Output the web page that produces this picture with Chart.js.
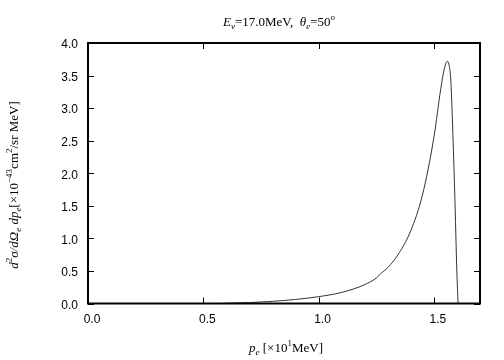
<!DOCTYPE html>
<html>
<head>
<meta charset="UTF-8">
<title>cross section</title>
<script src="https://cdn.jsdelivr.net/npm/chart.js"></script>
<style>
  html, body { margin: 0; padding: 0; background: #fff; }
  #wrap { width: 504px; height: 360px; }
</style>
</head>
<body>
<div id="wrap"><canvas id="grafico"></canvas></div>
<script>
// electron momentum p_e [x10 MeV] and cross section [x10^-43 cm^2/sr MeV]
var momentos = [0.58, 0.60, 0.70, 0.80, 0.90, 1.00, 1.10, 1.20, 1.25, 1.27, 1.30, 1.35, 1.40, 1.45, 1.50, 1.53, 1.545, 1.558, 1.566, 1.573, 1.580, 1.590, 1.600, 1.605];
var secoes  = [0.0, 0.004, 0.014, 0.033, 0.062, 0.105, 0.17, 0.29, 0.39, 0.46, 0.55, 0.78, 1.12, 1.66, 2.55, 3.30, 3.60, 3.72, 3.66, 3.45, 2.85, 1.75, 0.45, 0.0];
var ticksX = [0.0, 0.5, 1.0, 1.5];
var ticksY = [0.0, 0.5, 1.0, 1.5, 2.0, 2.5, 3.0, 3.5, 4.0];

var serif = '"Liberation Serif", "DejaVu Serif", serif';

// draws a run of text pieces (sub/superscripts) centred on x
function textoRico(ctx, partes, x, y) {
  var total = 0;
  partes.forEach(function (p) {
    ctx.font = p.f;
    p.w = ctx.measureText(p.t).width;
    total += p.w;
  });
  var cx = x - total / 2;
  ctx.textAlign = 'left';
  ctx.textBaseline = 'alphabetic';
  partes.forEach(function (p) {
    ctx.font = p.f;
    ctx.fillText(p.t, cx, y + (p.dy || 0));
    cx += p.w;
  });
}

var N = '13px ' + serif, I = 'italic 13px ' + serif;
var n = '9px ' + serif, i = 'italic 9px ' + serif;

var molduraPlugin = {
  id: 'moldura',
  afterDraw: function (chart) {
    var ctx = chart.ctx, a = chart.chartArea;
    var sx = chart.scales.x, sy = chart.scales.y;
    ctx.save();
    ctx.strokeStyle = '#000';
    ctx.lineWidth = 1;
    ctx.beginPath();
    ticksX.forEach(function (v) {
      var px = Math.round(sx.getPixelForValue(v)) + 0.5;
      ctx.moveTo(px, a.bottom); ctx.lineTo(px, a.bottom - 6);
      ctx.moveTo(px, a.top); ctx.lineTo(px, a.top + 6);
    });
    ticksY.forEach(function (v) {
      var py = Math.round(sy.getPixelForValue(v)) + 0.5;
      ctx.moveTo(a.left, py); ctx.lineTo(a.left + 6, py);
      ctx.moveTo(a.right, py); ctx.lineTo(a.right - 6, py);
    });
    ctx.stroke();
    ctx.lineWidth = 2;
    ctx.strokeRect(a.left, a.top, a.right - a.left, a.bottom - a.top);

    ctx.fillStyle = '#000';
    // title
    textoRico(ctx, [
      {t: 'E', f: I}, {t: 'ν', f: i, dy: 3}, {t: '=17.0MeV,  ', f: N},
      {t: 'θ', f: I}, {t: 'e', f: i, dy: 3}, {t: '=50', f: N}, {t: 'o', f: n, dy: -6}
    ], 279, 26);
    // x label
    textoRico(ctx, [
      {t: 'p', f: I}, {t: 'e', f: i, dy: 3}, {t: ' [×10', f: N}, {t: '1', f: n, dy: -6}, {t: 'MeV]', f: N}
    ], 286, 352);
    // y label
    ctx.save();
    ctx.translate(18, 185);
    ctx.rotate(-Math.PI / 2);
    textoRico(ctx, [
      {t: 'd', f: I}, {t: '2', f: n, dy: -6}, {t: 'σ/dΩ', f: I}, {t: 'e', f: i, dy: 3},
      {t: ' dp', f: I}, {t: 'e', f: i, dy: 3}, {t: '[×10', f: N}, {t: '−43', f: n, dy: -6},
      {t: 'cm', f: N}, {t: '2', f: n, dy: -6}, {t: '/sr MeV]', f: N}
    ], 0, 0);
    ctx.restore();
    ctx.restore();
  }
};

var pontos = momentos.map(function (p, k) { return {x: p, y: secoes[k]}; });

new Chart(document.getElementById('grafico'), {
  type: 'line',
  data: {
    datasets: [{
      data: pontos,
      borderColor: '#333',
      borderWidth: 1,
      pointRadius: 0,
      cubicInterpolationMode: 'monotone',
      fill: false
    }]
  },
  options: {
    responsive: true,
    maintainAspectRatio: false,
    animation: false,
    layout: { padding: { left: 0, top: 43, right: 24, bottom: 0 } },
    plugins: { legend: { display: false }, title: { display: false }, tooltip: { enabled: false } },
    scales: {
      x: {
        type: 'linear', min: 0, max: 1.7,
        grid: { display: false, drawTicks: false },
        border: { display: false },
        afterFit: function (s) { s.height = 56.5; },
        afterBuildTicks: function (s) { s.ticks = ticksX.map(function (v) { return {value: v}; }); },
        ticks: {
          padding: 9, labelOffset: 4, color: '#000',
          font: { family: '"Liberation Sans", Arial, sans-serif', size: 12 },
          callback: function (v) { return v.toFixed(1); }
        }
      },
      y: {
        min: 0, max: 4,
        grid: { display: false, drawTicks: false },
        border: { display: false },
        afterFit: function (s) { s.width = 88; },
        afterBuildTicks: function (s) { s.ticks = ticksY.map(function (v) { return {value: v}; }); },
        ticks: {
          padding: 10, labelOffset: 2, color: '#000',
          font: { family: '"Liberation Sans", Arial, sans-serif', size: 12 },
          callback: function (v) { return v.toFixed(1); }
        }
      }
    }
  },
  plugins: [molduraPlugin]
});
</script>
</body>
</html>
